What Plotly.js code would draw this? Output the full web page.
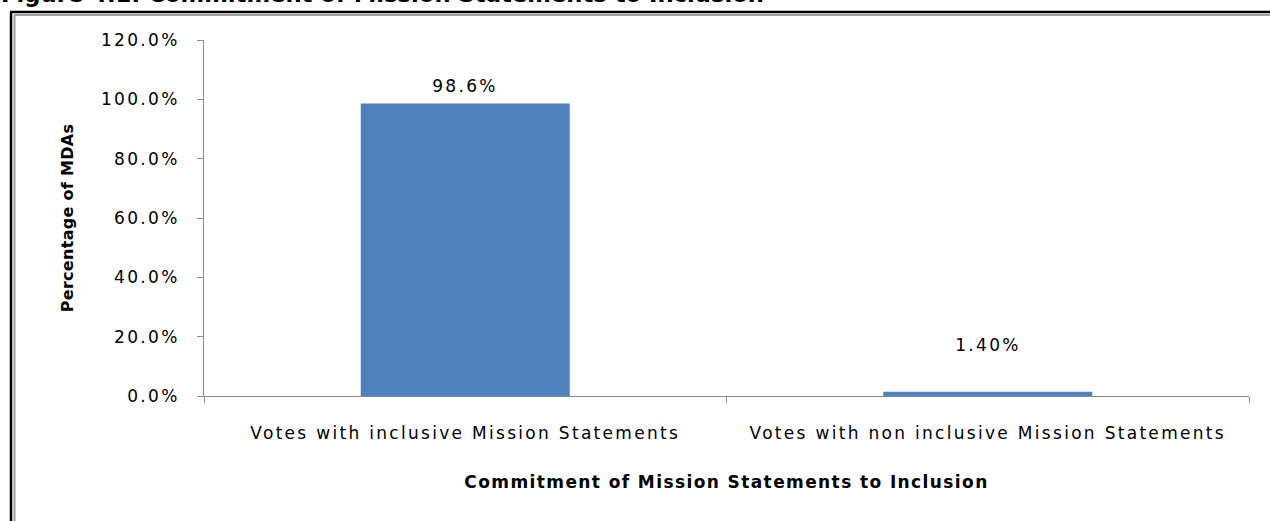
<!DOCTYPE html>
<html>
<head>
<meta charset="utf-8">
<script src="https://cdn.plot.ly/plotly-3.0.1.min.js"></script>
<style>
  html, body { margin: 0; padding: 0; background: #fff; }
  #chart { width: 1270px; height: 521px; }
  .xtick text, .ytick text { letter-spacing: 2.3px; }
  .annotation-text.dl { letter-spacing: 2.3px; }
  .xtitle { letter-spacing: 1.4px; }
  .ytitle { letter-spacing: 0.3px; }
</style>
</head>
<body>
<div id="chart"></div>
<script>
// ---- data ----
const categories = ["Votes with inclusive Mission Statements", "Votes with non inclusive Mission Statements"];
const values = [98.6, 1.4];
const valueLabels = ["98.6%", "1.40%"];
const figureTitle = "Figure 4.1: Commitment of Mission Statements to Inclusion";
const xTitle = "Commitment of Mission Statements to Inclusion";
const yTitle = "Percentage of MDAs";

// ---- layout geometry (pixels) ----
const W = 1270, H = 521;
const M = { l: 204, r: 21, t: 40, b: 125 };
const PW = W - M.l - M.r, PH = H - M.t - M.b;
const px = x => (x - M.l) / PW;
const py = y => (H - M.b - y) / PH;

const FONT = "DejaVu Sans, Verdana, sans-serif";
const axisGray = "#8a8a8a";

const trace = {
  type: "bar",
  x: categories,
  y: values,
  width: 0.4,
  marker: { color: "#4F81BD", line: { width: 0 } },
  hoverinfo: "none"
};

const labelShift = [17, 47];
const annotations = categories.map((c, i) => ({
  x: c, y: values[i], xref: "x", yref: "y",
  text: valueLabels[i], showarrow: false,
  yanchor: "middle", yshift: labelShift[i],
  font: { family: FONT, size: 17, color: "#000" }
}));

annotations.push({
  xref: "paper", yref: "paper",
  x: px(-1), y: py(-6), xanchor: "left", yanchor: "middle",
  text: "<b>" + figureTitle + "</b>", showarrow: false,
  font: { family: FONT, size: 22.7, color: "#000" }
});

const shapes = [
  // outer frame: black line then gray line (top and left)
  { type: "line", xref: "paper", yref: "paper", x0: px(10), x1: px(1280), y0: py(12), y1: py(12), line: { color: "#000", width: 2.5 } },
  { type: "line", xref: "paper", yref: "paper", x0: px(11), x1: px(11), y0: py(12), y1: py(530), line: { color: "#000", width: 2.5 } },
  { type: "line", xref: "paper", yref: "paper", x0: px(14.5), x1: px(1280), y0: py(15), y1: py(15), line: { color: "#a0a0a0", width: 2 } },
  { type: "line", xref: "paper", yref: "paper", x0: px(14.5), x1: px(14.5), y0: py(15), y1: py(530), line: { color: "#a0a0a0", width: 2 } }
];

const layout = {
  width: W, height: H,
  margin: M,
  paper_bgcolor: "#fff",
  plot_bgcolor: "#fff",
  showlegend: false,
  bargap: 0.6,
  font: { family: FONT, size: 17, color: "#000" },
  xaxis: {
    type: "category",
    showline: true, linecolor: axisGray, linewidth: 1,
    ticks: "outside", tickson: "boundaries", ticklen: 6, tickcolor: axisGray,
    ticklabelstandoff: 22,
    showgrid: false, zeroline: false,
    tickfont: { family: FONT, size: 17, color: "#000" },
    title: { text: "<b>" + xTitle + "</b>", font: { family: FONT, size: 17, color: "#000" }, standoff: 33 },
    fixedrange: true
  },
  yaxis: {
    range: [0, 120], dtick: 20, tick0: 0,
    tickformat: ".1f", ticksuffix: "%",
    showline: true, linecolor: axisGray, linewidth: 1,
    ticks: "outside", ticklen: 6, tickcolor: axisGray,
    ticklabelstandoff: 14,
    showgrid: false, zeroline: false,
    tickfont: { family: FONT, size: 17, color: "#000" },
    title: { text: "<b>" + yTitle + "</b>", font: { family: FONT, size: 16, color: "#000" }, standoff: 23 },
    fixedrange: true
  },
  annotations: annotations,
  shapes: shapes
};

Plotly.newPlot("chart", [trace], layout, { displayModeBar: false, staticPlot: true }).then(() => {
  document.querySelectorAll(".annotation-text").forEach((t, i) => {
    if (i < valueLabels.length) t.classList.add("dl");
  });
});
</script>
</body>
</html>
